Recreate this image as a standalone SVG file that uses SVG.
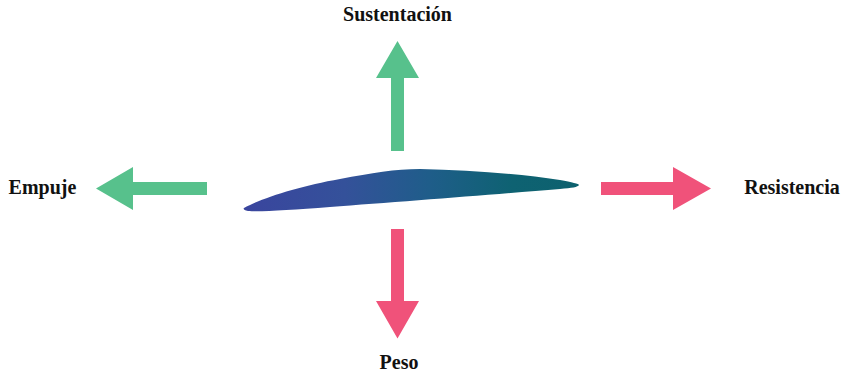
<svg xmlns="http://www.w3.org/2000/svg" width="841" height="374" viewBox="0 0 841 374">
  <style>
    .label { font-family: "Liberation Serif", "Times New Roman", serif; font-weight: bold; font-size: 20px; fill: #111; text-anchor: middle; }
    .up { fill: #57c18c; }
    .down { fill: #f0527a; }
  </style>
  <defs>
    <linearGradient id="wingFill" x1="244" y1="0" x2="579" y2="0" gradientUnits="userSpaceOnUse">
      <stop offset="0" stop-color="#3a459e"/>
      <stop offset="0.3" stop-color="#34519a"/>
      <stop offset="0.55" stop-color="#1f5d8a"/>
      <stop offset="0.8" stop-color="#0e6272"/>
      <stop offset="1" stop-color="#0d616e"/>
    </linearGradient>
  </defs>
  <rect width="841" height="374" fill="#ffffff"/>

  <g id="wing">
    <path d="M244,208 C262,198 300,186 340,179 C372,173 395,169 420,169 C470,170 520,174 560,180 C572,182 579,184 579,185 C578,187 572,188 560,189 C500,194 400,202 330,207 C290,210 260,212 248,211 C244,210 243,209 244,208 Z" fill="url(#wingFill)"/>
  </g>

  <g id="forces">
    <g id="lift">
      <polygon class="up" points="391,151 404,151 404,78 419,78 397.5,41 376,78 391,78"/>
      <text class="label" x="397.5" y="21">Sustentación</text>
    </g>
    <g id="thrust">
      <polygon class="up" points="207,182 207,195 133,195 133,210 96,188.5 133,167 133,182"/>
      <text class="label" x="42.5" y="194">Empuje</text>
    </g>
    <g id="drag">
      <polygon class="down" points="601,182 601,195 673,195 673,210 711,188.5 673,167 673,182"/>
      <text class="label" x="792" y="194">Resistencia</text>
    </g>
    <g id="weight">
      <polygon class="down" points="391,229 404,229 404,301 419,301 397.5,338.5 376,301 391,301"/>
      <text class="label" x="399" y="369">Peso</text>
    </g>
  </g>
</svg>
